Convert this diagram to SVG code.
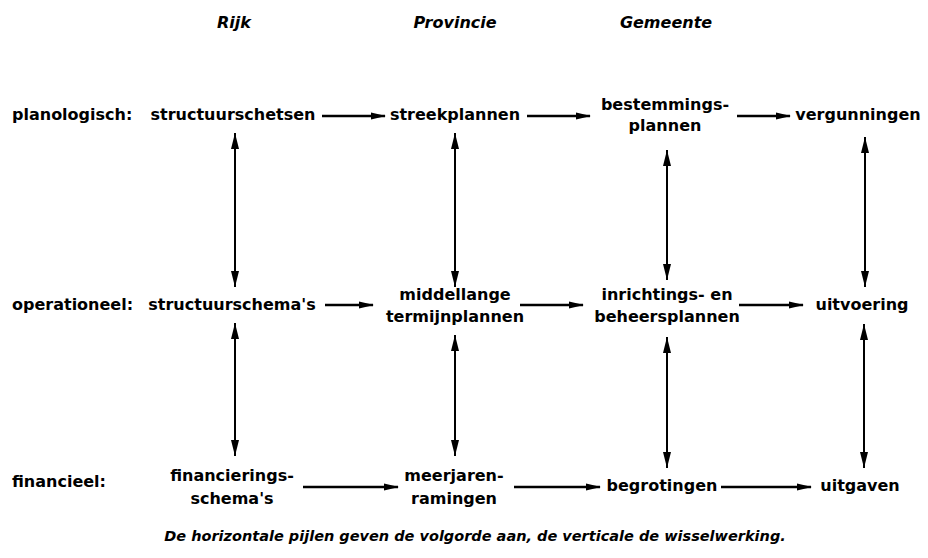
<svg xmlns="http://www.w3.org/2000/svg" width="928" height="558" viewBox="0 0 928 558">
<defs>
<style>
.t{font-family:"DejaVu Sans","Liberation Sans",sans-serif;font-weight:bold;font-size:16px;fill:#000}
.m{text-anchor:middle}
.h{font-family:"DejaVu Sans","Liberation Sans",sans-serif;font-weight:bold;font-style:italic;font-size:16px;fill:#000;text-anchor:middle}
.c{font-family:"DejaVu Sans","Liberation Sans",sans-serif;font-weight:bold;font-style:italic;font-size:14.5px;fill:#000;text-anchor:middle}
.a{stroke:#000;stroke-width:2.5;fill:none}
.v{stroke:#000;stroke-width:2;fill:none}
</style>
<marker id="ah" viewBox="0 0 15 8" refX="14" refY="4" markerWidth="15" markerHeight="8" markerUnits="userSpaceOnUse" orient="auto">
<path d="M0,0.5 L15,4 L0,7.5 Z" fill="#000"/>
</marker>
<marker id="vv" viewBox="0 0 16 8" refX="16" refY="4" markerWidth="16" markerHeight="8" markerUnits="userSpaceOnUse" orient="auto-start-reverse">
<path d="M0,0 L16,4 L0,8 Z" fill="#000"/>
</marker>
</defs>

<g id="headers">
<text class="h" x="234" y="28">Rijk</text>
<text class="h" x="455" y="28">Provincie</text>
<text class="h" x="666" y="28">Gemeente</text>
</g>

<g id="row-labels">
<text class="t" x="12" y="120">planologisch:</text>
<text class="t" x="12" y="310">operationeel:</text>
<text class="t" x="12" y="487">financieel:</text>
</g>

<g id="structuurschetsen"><text class="t m" x="233" y="120">structuurschetsen</text></g>
<g id="streekplannen"><text class="t m" x="455" y="120">streekplannen</text></g>
<g id="bestemmingsplannen"><text class="t m" x="665" y="110">bestemmings-</text><text class="t m" x="665" y="131">plannen</text></g>
<g id="vergunningen"><text class="t m" x="858" y="120">vergunningen</text></g>

<g id="structuurschemas"><text class="t m" x="232" y="310">structuurschema's</text></g>
<g id="middellange"><text class="t m" x="455" y="300">middellange</text><text class="t m" x="455" y="322">termijnplannen</text></g>
<g id="inrichtingsplannen"><text class="t m" x="667" y="300">inrichtings- en</text><text class="t m" x="667" y="322">beheersplannen</text></g>
<g id="uitvoering"><text class="t m" x="862" y="310">uitvoering</text></g>

<g id="financieringsschemas"><text class="t m" x="232" y="481">financierings-</text><text class="t m" x="232" y="504">schema's</text></g>
<g id="meerjarenramingen"><text class="t m" x="454" y="481">meerjaren-</text><text class="t m" x="454" y="504">ramingen</text></g>
<g id="begrotingen"><text class="t m" x="662" y="491">begrotingen</text></g>
<g id="uitgaven"><text class="t m" x="860" y="491">uitgaven</text></g>

<g id="connectors">
<line class="a" x1="322" y1="116" x2="385" y2="116" marker-end="url(#ah)"/>
<line class="a" x1="527" y1="116" x2="590" y2="116" marker-end="url(#ah)"/>
<line class="a" x1="737" y1="116" x2="790" y2="116" marker-end="url(#ah)"/>
<line class="a" x1="325" y1="305" x2="373" y2="305" marker-end="url(#ah)"/>
<line class="a" x1="520" y1="305" x2="583" y2="305" marker-end="url(#ah)"/>
<line class="a" x1="739" y1="305" x2="803" y2="305" marker-end="url(#ah)"/>
<line class="a" x1="303" y1="487" x2="398" y2="487" marker-end="url(#ah)"/>
<line class="a" x1="514" y1="487" x2="600" y2="487" marker-end="url(#ah)"/>
<line class="a" x1="721" y1="487" x2="811" y2="487" marker-end="url(#ah)"/>

<line class="v" x1="235" y1="133" x2="235" y2="287" marker-start="url(#vv)" marker-end="url(#vv)"/>
<line class="v" x1="455" y1="133" x2="455" y2="287" marker-start="url(#vv)" marker-end="url(#vv)"/>
<line class="v" x1="667" y1="150" x2="667" y2="280" marker-start="url(#vv)" marker-end="url(#vv)"/>
<line class="v" x1="865" y1="137" x2="865" y2="287" marker-start="url(#vv)" marker-end="url(#vv)"/>
<line class="v" x1="235" y1="323" x2="235" y2="456" marker-start="url(#vv)" marker-end="url(#vv)"/>
<line class="v" x1="455" y1="335" x2="455" y2="456" marker-start="url(#vv)" marker-end="url(#vv)"/>
<line class="v" x1="667" y1="337" x2="667" y2="468" marker-start="url(#vv)" marker-end="url(#vv)"/>
<line class="v" x1="864" y1="324" x2="864" y2="468" marker-start="url(#vv)" marker-end="url(#vv)"/>
</g>

<g id="caption">
<text class="c" x="475" y="541">De horizontale pijlen geven de volgorde aan, de verticale de wisselwerking.</text>
</g>
</svg>
